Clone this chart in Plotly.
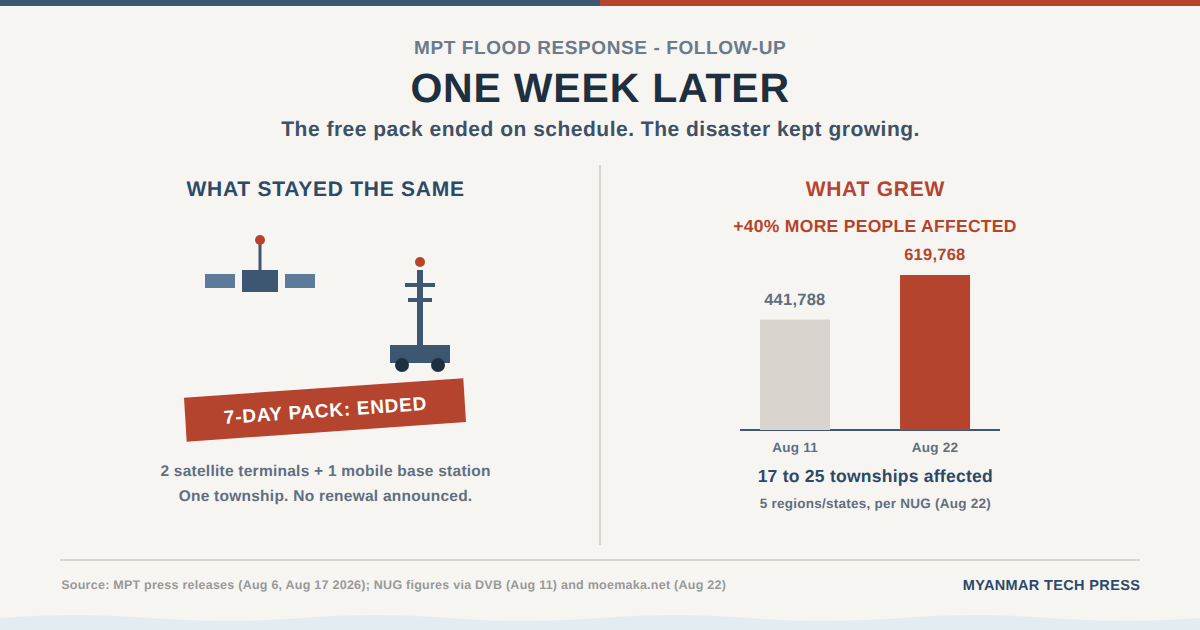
import json
import plotly.graph_objects as go

W = 1200
H = 630

dates = ['Aug 11', 'Aug 22']
people = [441788, 619768]
value_labels = ['441,788', '619,768']

BG = '#f7f5f2'
NAVY = '#3d5672'
STEEL = '#5c7a9a'
DARK = '#1e2f40'
RED = '#b5442e'
SAND = '#d9d5ce'
SLATE = '#5f6f80'
GREY_BLUE = '#6b7b8c'
SUB = '#3d5266'
HEAD = '#2c4a68'
FAM = 'Liberation Sans'


def px_x(x):
    return x / W


def px_y(y):
    return 1 - y / H


def rect(x0, y0, x1, y1, color):
    return dict(type='rect', xref='paper', yref='paper', x0=px_x(x0), x1=px_x(x1), y0=px_y(y0), y1=px_y(y1),
                fillcolor=color, line_width=0, layer='below')


def circle(cx, cy, r, color):
    return dict(type='circle', xref='paper', yref='paper', x0=px_x(cx - r), x1=px_x(cx + r), y0=px_y(cy - r), y1=px_y(cy + r),
                fillcolor=color, line_width=0, layer='below')


def poly(points, color):
    d = 'M' + ' L'.join(f'{px_x(x)},{px_y(y)}' for x, y in points) + ' Z'
    return dict(type='path', xref='paper', yref='paper', path=d, fillcolor=color, line_width=0, layer='below')


def label(text, x, y, size, color, angle=0):
    return dict(text=f'<b>{text}</b>', xref='paper', yref='paper', x=px_x(x), y=px_y(y), xanchor='center', yanchor='middle',
                showarrow=False, textangle=angle, borderpad=0, borderwidth=0, font=dict(family=FAM, size=size, color=color))


# bottom waves, 300px period
wave = f'M0,{px_y(618)}'
for i in range(4):
    x = i * 300
    wave += f' Q{px_x(x + 75)},{px_y(612)} {px_x(x + 150)},{px_y(618)}'
    wave += f' Q{px_x(x + 225)},{px_y(624)} {px_x(x + 300)},{px_y(618)}'
wave += f' L1,0 L0,0 Z'

shapes = [
    rect(0, 0, 600, 6, NAVY),
    rect(600, 0, 1200, 6, RED),
    dict(type='path', xref='paper', yref='paper', path=wave, fillcolor='#e3ecf1', line_width=0, layer='below'),
    rect(599, 165, 601, 545, SAND),
    rect(60, 559, 1140, 561, SAND),
    # bar baseline, sits under the bars
    rect(740, 429, 1000, 431, NAVY),
    # satellite
    rect(205, 274, 235, 288, STEEL),
    rect(285, 274, 315, 288, STEEL),
    rect(242, 270, 278, 292, NAVY),
    rect(258.5, 240, 261.5, 270, NAVY),
    circle(260, 240, 5, RED),
    # mobile base station
    rect(417, 270, 423, 345, NAVY),
    rect(405, 283, 435, 287, NAVY),
    rect(408, 298, 432, 302, NAVY),
    rect(390, 345, 450, 363, NAVY),
    circle(402, 365, 7, DARK),
    circle(438, 365, 7, DARK),
    circle(420, 262, 5, RED),
    # banner
    poly([(184, 397.7), (463.3, 378.3), (466, 422), (186.7, 441.7)], RED),
]

annotations = [
    label('MPT FLOOD RESPONSE - FOLLOW-UP', 600, 48, 19, GREY_BLUE),
    label('ONE WEEK LATER', 600, 88, 41, DARK),
    label('The free pack ended on schedule. The disaster kept growing.', 600, 129, 21, SUB),
    label('WHAT STAYED THE SAME', 325, 188, 21, HEAD),
    label('WHAT GREW', 875, 188, 21, RED),
    label('+40% MORE PEOPLE AFFECTED', 875, 226, 17.5, RED),
    label('7-DAY PACK: ENDED', 325, 410, 19, 'white', angle=-4),
    label('2 satellite terminals + 1 mobile base station', 325, 470, 15.5, SLATE),
    label('One township. No renewal announced.', 325, 495, 15.5, SLATE),
    label('17 to 25 townships affected', 875, 476, 17.5, HEAD),
    label('5 regions/states, per NUG (Aug 22)', 875, 503, 13.5, SLATE),
    label('Source: MPT press releases (Aug 6, Aug 17 2026); NUG figures via DVB (Aug 11) and moemaka.net (Aug 22)', 393, 585, 12.5, '#999999'),
    label('MYANMAR TECH PRESS', 1051, 585, 14.5, HEAD),
]
# letter-spacing per annotation in px, plotly has no option for it
spacing = [0.6, 0.8, 0.5, 0.75, 0.75, 0.3, 0.75, 0.25, 0.25, 0.25, 0.25, 0.25, 0.35, 0.25, 0.25]

label_colors = [SLATE, RED]
for d, v, t, c in zip(dates, people, value_labels, label_colors):
    annotations.append(dict(text=f'<b>{t}</b>', xref='x', yref='y', x=d, y=v, yshift=21, yanchor='middle', showarrow=False,
                            font=dict(family=FAM, size=16.5, color=c)))

fig = go.Figure(go.Bar(x=dates, y=people, width=0.5, marker=dict(color=[SAND, RED], line_width=0), cliponaxis=False, hoverinfo='skip'))

fig.update_layout(
    width=W, height=H, margin=dict(l=0, r=0, t=0, b=0),
    paper_bgcolor=BG, plot_bgcolor=BG, showlegend=False,
    shapes=shapes, annotations=annotations,
    xaxis=dict(domain=[px_x(740), px_x(1000)], range=[-0.393, 1.464], type='category', showgrid=False, zeroline=False,
               showline=False, ticks='outside', ticklen=5, tickcolor='rgba(0,0,0,0)',
               tickfont=dict(family=FAM, size=13.5, color=SLATE, weight='bold')),
    yaxis=dict(domain=[px_y(430), px_y(275)], range=[0, people[1]], visible=False),
)

post = """
document.body.style.margin = '0';
var st = document.createElement('style');
st.textContent = 'svg text {text-rendering: geometricPrecision;} .xtick text {letter-spacing: 0.25px;}';
document.head.appendChild(st);
var sp = SPACING;
document.querySelectorAll('.annotation-text').forEach(function (t, i) {
    t.style.letterSpacing = sp[i] + 'px';
});
""".replace('SPACING', json.dumps(spacing))
fig.write_html("out.html", post_script=post, config={'displayModeBar': False})
